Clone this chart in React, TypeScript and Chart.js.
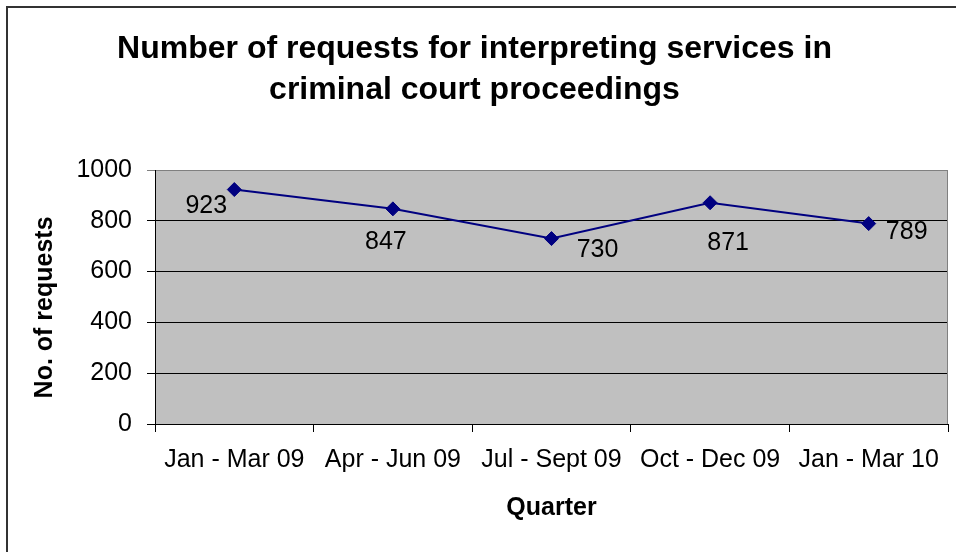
import React, { useEffect, useRef } from "react";
import { Chart, registerables } from "chart.js";

Chart.register(...registerables);

const titleLines = [
  "Number of requests for interpreting services in",
  "criminal court proceedings",
];
const quarters = [
  "Jan - Mar 09",
  "Apr - Jun 09",
  "Jul - Sept 09",
  "Oct - Dec 09",
  "Jan - Mar 10",
];
const requests = [923, 847, 730, 871, 789];
const yTitle = "No. of requests";
const xTitle = "Quarter";

// label placement offsets (style only, in px relative to each point)
const labelOffsets = [
  [-28, 17],
  [-7, 33],
  [46, 12],
  [18, 40],
  [38, 9],
];

const FONT = "'Liberation Sans', Arial, sans-serif";

const framePlugin = {
  id: "frame",
  beforeDraw(chart: any) {
    const { ctx, chartArea } = chart;
    ctx.save();
    ctx.fillStyle = "#ffffff";
    ctx.fillRect(0, 0, chart.width, chart.height);
    ctx.strokeStyle = "#333333";
    ctx.lineWidth = 2;
    ctx.strokeRect(7, 7, chart.width + 10, chart.height + 10);
    ctx.fillStyle = "#C0C0C0";
    ctx.fillRect(
      chartArea.left,
      chartArea.top,
      chartArea.right - chartArea.left,
      chartArea.bottom - chartArea.top
    );
    ctx.restore();
  },
  beforeDatasetsDraw(chart: any) {
    const { ctx, chartArea } = chart;
    ctx.save();
    ctx.strokeStyle = "#808080";
    ctx.lineWidth = 1;
    ctx.beginPath();
    ctx.moveTo(Math.round(chartArea.right) - 0.5, chartArea.top);
    ctx.lineTo(Math.round(chartArea.right) - 0.5, chartArea.bottom);
    ctx.stroke();
    ctx.restore();
  },
};

const labelPlugin = {
  id: "pointLabels",
  afterDatasetsDraw(chart: any) {
    const { ctx } = chart;
    const meta = chart.getDatasetMeta(0);
    ctx.save();
    ctx.font = `25px ${FONT}`;
    ctx.fillStyle = "#000000";
    ctx.textAlign = "center";
    ctx.textBaseline = "middle";
    meta.data.forEach((pt: any, i: number) => {
      const off = labelOffsets[i] || [0, 0];
      ctx.fillText(String(requests[i]), pt.x + off[0], pt.y + off[1]);
    });
    ctx.restore();
  },
};

export default function App() {
  const ref = useRef<HTMLCanvasElement | null>(null);

  useEffect(() => {
    if (!ref.current) return;
    const chart = new Chart(ref.current, {
      type: "line",
      data: {
        labels: quarters,
        datasets: [
          {
            data: requests,
            borderColor: "#000080",
            borderWidth: 2,
            backgroundColor: "#000080",
            pointStyle: "rectRot",
            pointRadius: 7,
            pointBorderWidth: 1,
            pointBackgroundColor: "#000080",
            pointBorderColor: "#000080",
            tension: 0,
            fill: false,
          },
        ],
      },
      options: {
        responsive: false,
        animation: false,
        layout: { padding: { left: 0, right: 7, top: 0, bottom: 0 } },
        plugins: {
          legend: { display: false },
          tooltip: { enabled: false },
          title: {
            display: true,
            text: titleLines,
            color: "#000000",
            font: { family: FONT, size: 32, weight: "bold", lineHeight: 41 / 32 },
            padding: { top: 29, bottom: 59 },
          },
        },
        scales: {
          x: {
            type: "category",
            offset: true,
            grid: {
              offset: true,
              drawOnChartArea: false,
              drawTicks: true,
              tickLength: 8,
              color: "#000000",
            },
            border: { display: true, color: "#000000", width: 1 },
            ticks: {
              color: "#000000",
              font: { family: FONT, size: 25 },
              padding: 13,
              maxRotation: 0,
              autoSkip: false,
            },
            title: {
              display: true,
              text: xTitle,
              color: "#000000",
              font: { family: FONT, size: 25, weight: "bold", lineHeight: 1.2 },
              padding: { top: 0, bottom: 29 },
            },
            afterFit(scale: any) {
              scale.height = 128;
            },
          },
          y: {
            min: 0,
            max: 1000,
            ticks: {
              stepSize: 200,
              color: "#000000",
              font: { family: FONT, size: 25 },
              padding: 15,
              callback: (v: any) => String(v),
            },
            grid: {
              drawOnChartArea: true,
              drawTicks: true,
              tickLength: 8,
              color: (c: any) =>
                c.tick && c.tick.value === 1000 ? "#808080" : "#000000",
            },
            border: { display: true, color: "#000000", width: 1 },
            title: {
              display: true,
              text: yTitle + "\u00a0\u00a0\u00a0",
              color: "#000000",
              font: { family: FONT, size: 25, weight: "bold", lineHeight: 1.2 },
              padding: { top: 30, bottom: 0 },
            },
            afterFit(scale: any) {
              scale.width = 155;
            },
          },
        },
      },
      plugins: [framePlugin, labelPlugin],
    });
    return () => chart.destroy();
  }, []);

  return (
    <div style={{ position: "absolute", left: 0, top: 0, width: 956, height: 552 }}>
      <canvas ref={ref} width={956} height={552} style={{ display: "block" }} />
    </div>
  );
}
